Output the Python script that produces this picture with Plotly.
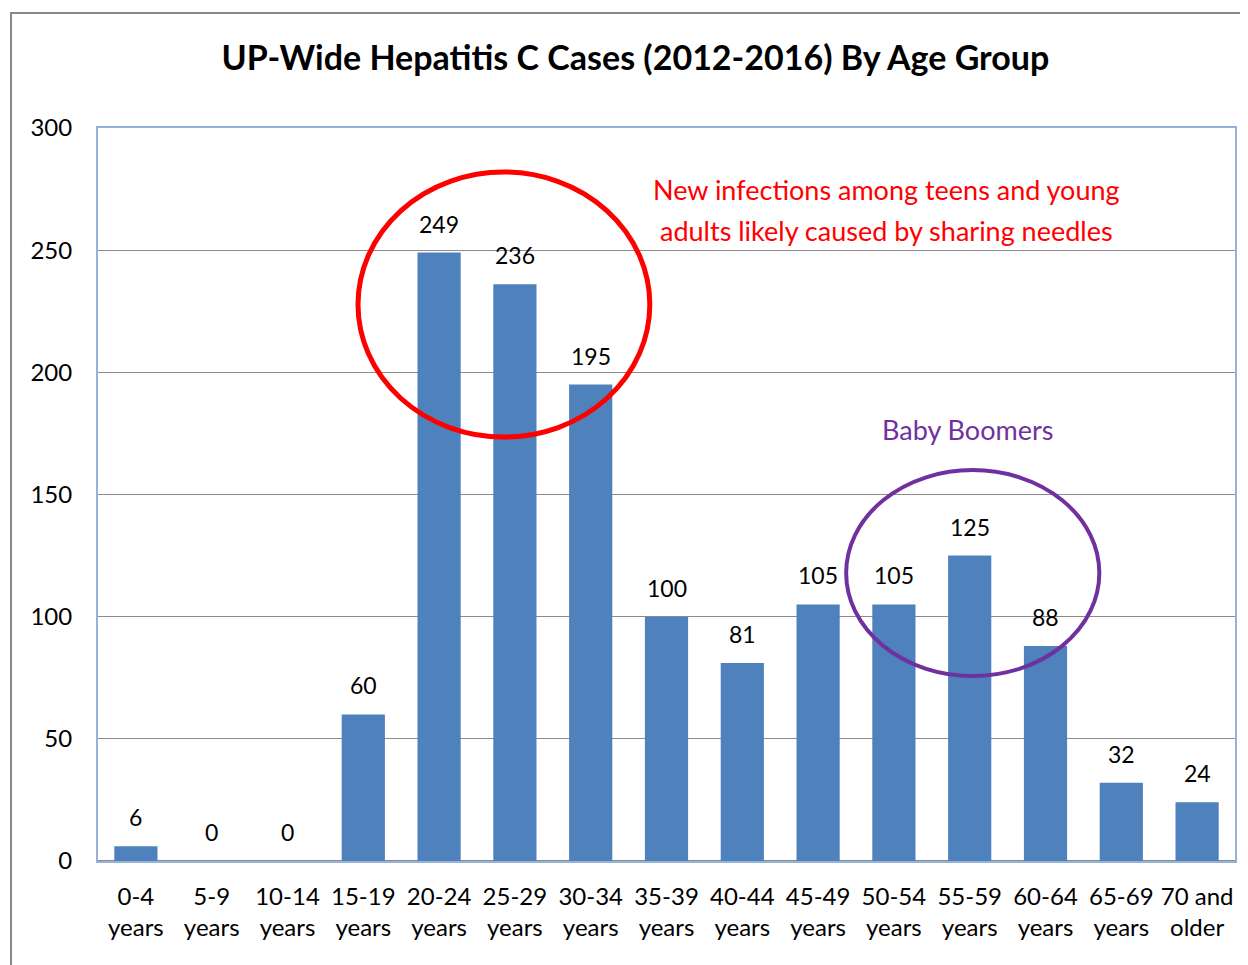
import plotly.graph_objects as go

age_groups = ["0-4<br>years", "5-9<br>years", "10-14<br>years", "15-19<br>years",
              "20-24<br>years", "25-29<br>years", "30-34<br>years", "35-39<br>years",
              "40-44<br>years", "45-49<br>years", "50-54<br>years", "55-59<br>years",
              "60-64<br>years", "65-69<br>years", "70 and<br>older"]
cases = [6, 0, 0, 60, 249, 236, 195, 100, 81, 105, 105, 125, 88, 32, 24]
y_ticks = [0, 50, 100, 150, 200, 250, 300]

FONT = "Lato, Carlito, Calibri, sans-serif"
idx = list(range(len(age_groups)))

fig = go.Figure()
fig.add_trace(go.Bar(
    x=idx, y=cases,
    marker=dict(color="#4f81bd", line=dict(width=0)),
    width=0.57,
    hoverinfo="y",
))

# value labels above each bar (zeros included)
for i, v in zip(idx, cases):
    fig.add_annotation(x=i, y=v, xref="x", yref="y", text=str(v),
                       showarrow=False, yanchor="bottom", yshift=13,
                       font=dict(family=FONT, size=23, color="black"))

# circles around the groups of interest
fig.add_shape(type="circle", xref="x", yref="y",
              x0=2.93, x1=6.78, y0=173.5, y1=282,
              line=dict(color="#ff0000", width=5))
fig.add_shape(type="circle", xref="x", yref="y",
              x0=9.37, x1=12.71, y0=75.7, y1=160,
              line=dict(color="#7030a0", width=4))

# outer chart frame
fig.add_shape(type="rect", xref="paper", yref="paper",
              x0=-0.0765, x1=1.1, y0=-0.3, y1=1.157,
              line=dict(color="#878787", width=2))

fig.add_annotation(x=9.9, y=275, xref="x", yref="y",
                   text="New infections among teens and young",
                   showarrow=False,
                   font=dict(family=FONT, size=27, color="#ff0000"))
fig.add_annotation(x=9.9, y=257.9, xref="x", yref="y",
                   text="adults likely caused by sharing needles",
                   showarrow=False,
                   font=dict(family=FONT, size=27, color="#ff0000"))
fig.add_annotation(x=10.97, y=176.6, xref="x", yref="y",
                   text="Baby Boomers", showarrow=False,
                   font=dict(family=FONT, size=27, color="#7030a0"))

fig.update_layout(
    width=1240, height=957,
    paper_bgcolor="white", plot_bgcolor="white",
    margin=dict(l=90, r=13, t=120, b=104),
    showlegend=False,
    font=dict(family=FONT, size=24, color="black"),
    title=dict(text="<b>UP-Wide Hepatitis C Cases (2012-2016) By Age Group</b>",
               x=0.506, xanchor="center", y=0.948, yanchor="middle",
               font=dict(family=FONT, size=34, color="black")),
    xaxis=dict(
        range=[-0.5, 14.5],
        tickmode="array", tickvals=idx, ticktext=age_groups,
        showgrid=False, zeroline=False,
        showline=True, linecolor="#95b3d7", linewidth=2, mirror=True,
        ticks="", ticklabelstandoff=13,
        tickfont=dict(family=FONT, size=24, color="black"),
    ),
    yaxis=dict(
        range=[0, 300],
        tickmode="array", tickvals=y_ticks,
        showgrid=True, gridcolor="#8c8c8c", gridwidth=1.2,
        zeroline=True, zerolinecolor="#8c8c8c", zerolinewidth=2,
        showline=True, linecolor="#95b3d7", linewidth=2, mirror=True,
        ticks="", ticklabelstandoff=19,
        tickfont=dict(family=FONT, size=24, color="black"),
    ),
)

fig.write_html("out.html")
